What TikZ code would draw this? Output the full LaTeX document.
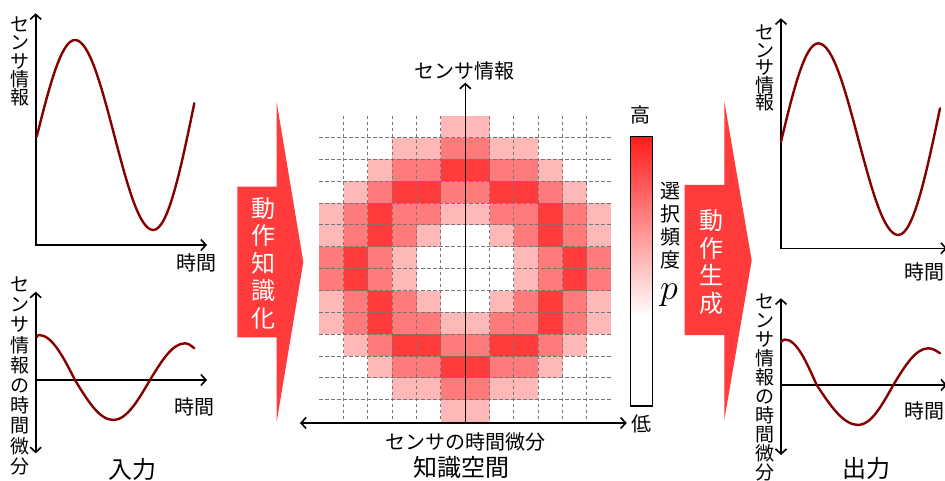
\documentclass[tikz,border=0pt]{standalone}
\usepackage{fontspec}
\setmainfont{Noto Sans CJK JP}
\usetikzlibrary{arrows.meta}
\definecolor{cellA}{RGB}{255,184,184}
\definecolor{cellB}{RGB}{255,123,123}
\definecolor{cellC}{RGB}{255,59,59}
\definecolor{arrowred}{RGB}{255,59,59}
\definecolor{barred}{RGB}{255,28,28}
\definecolor{wave}{RGB}{135,0,0}
\definecolor{gridgray}{RGB}{118,118,118}
\begin{document}
\begin{tikzpicture}[x=1pt,y=-1pt,
  axisline/.style={line width=1.6pt,-{Straight Barb[length=5pt,width=11pt]}},
  axisboth/.style={line width=1.6pt,{Straight Barb[length=5pt,width=11pt]}-{Straight Barb[length=5pt,width=11pt]}},
  wavecurve/.style={wave,line width=2.4pt,line cap=round,line join=round},
  gridline/.style={gridgray,line width=1pt,dash pattern=on 3.5pt off 2.5pt},
  bigarrow/.style={fill=arrowred,draw=none},
  vlab/.style={inner sep=0pt,align=center,font=\fontsize{19}{18.3}\selectfont},
  vlabB/.style={inner sep=0pt,align=center,font=\fontsize{19}{20.2}\selectfont},
  vlabC/.style={inner sep=0pt,align=center,font=\fontsize{19}{17.5}\selectfont},
  vlabD/.style={inner sep=0pt,align=center,font=\fontsize{19}{19.1}\selectfont},
  hlab/.style={inner sep=0pt,font=\fontsize{20}{20}\selectfont},
  title/.style={inner sep=0pt,font=\fontsize{24}{24}\selectfont},
  arrowtext/.style={inner sep=0pt,align=center,text=white,font=\fontsize{24}{27.5}\selectfont}
]
\useasboundingbox (0,0) rectangle (945,481);
\clip (0,0) rectangle (945,481);
\fill[white] (0,0) rectangle (945,481);

% ---------------- left plots (input) ----------------
\coordinate (l1top) at (35.7,13.3);
\coordinate (l1org) at (35.7,245);
\coordinate (l1right) at (207,245);
\draw[axisboth,line join=miter] (l1top) -- (l1org) -- (l1right);
\draw[wavecurve] (36.7,136.7) sin (75,40) cos (114.2,135) sin (153.3,230) cos (194.3,103.3);
\node[vlab] (l1ylab) at (20,61.7) {セ\\ン\\サ\\情\\報};
\node[hlab] (l1xlab) at (196.5,263) {時間};

\coordinate (l2top) at (35.7,291.7);
\coordinate (l2bot) at (35.7,453.3);
\coordinate (l2org) at (35.7,380);
\coordinate (l2right) at (207,380);
\draw[axisboth] (l2top) -- (l2bot);
\draw[axisline] (l2org) -- (l2right);
\draw[wavecurve] (36.7,337) sin (39,335) cos (75,380) sin (113.3,420) cos (150,380) sin (185,343.3) cos (194.3,348.3);
\node[vlabB] (l2ylab) at (20,375.8) {セ\\ン\\サ\\情\\報\\の\\時\\間\\微\\分};
\node[hlab] (l2xlab) at (194.3,406.7) {時間};
\node[title] (intitle) at (132,469) {入力};

% ---------------- big arrows ----------------
\fill[bigarrow] (237.3,186.7) -- (276.7,186.7) -- (276.7,102.3) -- (303.3,262) -- (276.7,421.7) -- (276.7,337.3) -- (237.3,337.3) -- cycle;
\node[arrowtext] (a1text) at (263,263) {動\\作\\知\\識\\化};

\fill[bigarrow] (684.7,185) -- (724.3,185) -- (724.3,101) -- (751.7,260.5) -- (724.3,420) -- (724.3,335) -- (684.7,335) -- cycle;
\node[arrowtext] (a2text) at (711,262) {動\\作\\生\\成};

% ---------------- knowledge space grid ----------------
\foreach \rowvals [count=\r from 0] in {
 {0,0,0,0,0,1,1,0,0,0,0,0},
 {0,0,0,1,1,2,2,1,1,0,0,0},
 {0,0,1,2,2,3,3,2,2,1,0,0},
 {0,1,2,3,3,2,2,3,3,2,1,0},
 {1,2,3,2,2,1,1,2,2,3,2,1},
 {1,2,3,2,1,0,0,1,2,3,2,1},
 {2,3,2,1,0,0,0,0,1,2,3,2},
 {2,3,2,1,0,0,0,0,1,2,3,2},
 {1,2,3,2,1,0,0,1,2,3,2,1},
 {1,2,3,2,2,1,1,2,2,3,2,1},
 {0,1,2,3,3,2,2,3,3,2,1,0},
 {0,0,1,2,2,3,3,2,2,1,0,0},
 {0,0,0,1,1,2,2,1,1,0,0,0},
 {0,0,0,0,0,1,1,0,0,0,0,0}}{
  \foreach \v [count=\c from 0] in \rowvals {
    \ifnum\v=1 \fill[cellA] ({319.3+\c*24.333},{115.7+\r*21.857}) rectangle ++(24.45,21.97);\fi
    \ifnum\v=2 \fill[cellB] ({319.3+\c*24.333},{115.7+\r*21.857}) rectangle ++(24.45,21.97);\fi
    \ifnum\v=3 \fill[cellC] ({319.3+\c*24.333},{115.7+\r*21.857}) rectangle ++(24.45,21.97);\fi
  }
}
\foreach \c in {1,...,11} {
  \draw[gridline] ({319.3+\c*24.333},115.7) -- ({319.3+\c*24.333},422);
}
\foreach \r in {1,...,13} {
  \draw[gridline] (319.3,{115.7+\r*21.857}) -- (611.3,{115.7+\r*21.857});
}

\coordinate (cbot) at (465.3,423);
\coordinate (ctop) at (465.3,82.7);
\coordinate (cleft) at (300,423);
\coordinate (cright) at (626.7,423);
\draw[axisline] (cbot) -- (ctop);
\draw[axisboth] (cleft) -- (cright);
\node[hlab] (cylab) at (464,70.7) {センサ情報};
\node[hlab] (cxlab) at (465,441.7) {センサの時間微分};
\node[title] (kstitle) at (461,467) {知識空間};

% ---------------- colour bar ----------------
\shade[top color=barred,bottom color=white] (630.7,136.7) rectangle (652.3,317);
\draw[line width=1.5pt] (630.7,136.7) rectangle (652.3,406);
\node[hlab] (hi) at (640.5,115) {高};
\node[hlab] (lo) at (641,424) {低};
\node[inner sep=0pt,align=center,font=\fontsize{20}{22.8}\selectfont] (cblab) at (670,225.8) {選\\択\\頻\\度};
\node[inner sep=0pt,font=\fontsize{24}{24}\selectfont] (cbp) at (669,295) {\scalebox{1.45}{$p$}};

% ---------------- right plots (output) ----------------
\coordinate (r1top) at (781,18.3);
\coordinate (r1org) at (781,248.3);
\coordinate (r1right) at (947,248.3);
\draw[axisboth,line join=miter] (r1top) -- (r1org) -- (r1right);
\draw[wavecurve] (781,141.7) sin (818.3,43.3) cos (858.3,139.2) sin (898.3,235) cos (940,108.3);
\node[vlabC] (r1ylab) at (765,68.3) {セ\\ン\\サ\\情\\報};
\node[hlab] (r1xlab) at (924.5,271.7) {時間};

\coordinate (r2top) at (781,298.3);
\coordinate (r2bot) at (781,455);
\coordinate (r2org) at (781,385);
\coordinate (r2right) at (947,385);
\draw[axisboth] (r2top) -- (r2bot);
\draw[axisline] (r2org) -- (r2right);
\draw[wavecurve] (781,342) sin (785,339.5) cos (816.7,385) sin (858.3,425) cos (893.3,385) sin (928.3,348.3) cos (940,353.3);
\node[vlabD] (r2ylab) at (765,387.5) {セ\\ン\\サ\\情\\報\\の\\時\\間\\微\\分};
\node[hlab] (r2xlab) at (924.5,411.2) {時間};
\node[title] (outtitle) at (866,468.5) {出力};
\end{tikzpicture}
\end{document}
